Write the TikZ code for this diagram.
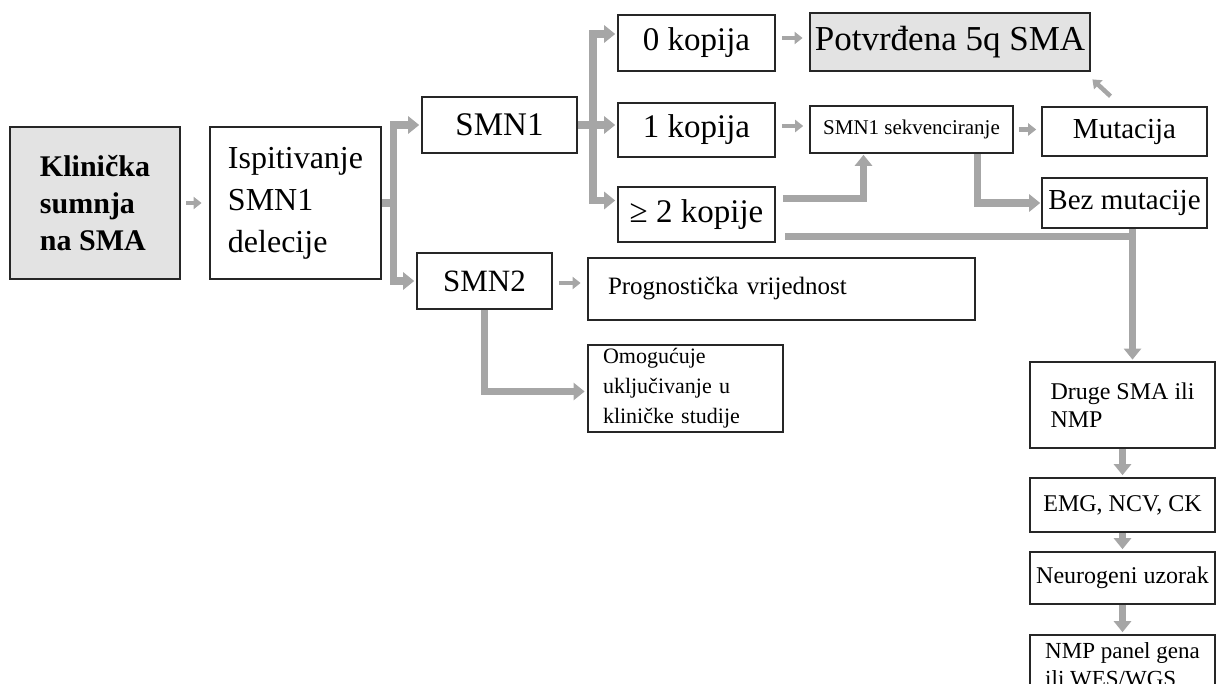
\documentclass[tikz,border=0pt]{standalone}
\usepackage{fontspec}
\setmainfont{Liberation Serif}
\usetikzlibrary{arrows.meta}
\definecolor{arrowgray}{HTML}{A6A6A6}
\definecolor{boxgray}{HTML}{E3E3E3}
\newcommand{\fsz}[2]{\fontsize{#1}{#2}\selectfont}

\begin{document}
\begin{tikzpicture}[x=1pt,y=-1pt,
    box/.style={draw=black!85, line width=1.6pt, inner sep=0pt, align=center},
    boxb/.style={box, line width=2.8pt},
    graybox/.style={boxb, fill=boxgray},
    flow/.style={draw=arrowgray, line width=4.5pt, -{Triangle[length=8pt,width=12pt]}},
    branchline/.style={draw=arrowgray, line width=7.5pt},
    branch/.style={branchline, -{Triangle[length=11pt,width=17pt]}}]
    \useasboundingbox (0,0) rectangle (1217,684);
    \clip (0,0) rectangle (1217,684);% bottom box is cut off
    % left column
    \node[graybox, minimum width=170pt, minimum height=152pt, align=left,
        font=\bfseries\fsz{30}{37}] (klin) at (95,203) {Klinička\\sumnja\\na SMA};
    \node[boxb, minimum width=171pt, minimum height=152pt, align=left,
        font=\fsz{32}{42}] (ispit) at (295.5,203) {Ispitivanje\\SMN1\\delecije};
    \node[box, minimum width=155pt, minimum height=56pt, font=\fsz{33}{40}] (smn1) at (499.5,125) {SMN1};
    \node[box, minimum width=135pt, minimum height=56pt, font=\fsz{31}{38}] (smn2) at (484.5,281) {SMN2};
    % copies
    \node[box, minimum width=157pt, minimum height=56pt, font=\fsz{33}{40}] (k0) at (696.5,43) {0 kopija};
    \node[box, minimum width=157pt, minimum height=54pt, font=\fsz{33}{40}] (k1) at (696.5,130) {1 kopija};
    \node[box, minimum width=157pt, minimum height=55pt, font=\fsz{33}{40}] (k2) at (696.5,214.5) {≥ 2 kopije};
    \node[boxb, minimum width=387pt, minimum height=62pt, text width=347pt, inner xsep=20pt,
        align=left, font=\fsz{25}{30}] (progn) at (781.5,289) {Prognostička vrijednost};
    \node[boxb, minimum width=195pt, minimum height=87pt, text width=165pt, inner xsep=15pt,
        align=left, font=\fsz{22}{30}] (omog) at (685.5,388.5) {Omogućuje\\uključivanje u\\kliničke studije};
    % right part
    \node[graybox, minimum width=280pt, minimum height=58pt, font=\fsz{35}{40}] (potv) at (950,42) {Potvrđena 5q SMA};
    \node[box, minimum width=203pt, minimum height=47pt, font=\fsz{21}{26}] (sekv) at (911.5,129.5) {SMN1 sekvenciranje};
    \node[box, minimum width=165pt, minimum height=49pt, font=\fsz{29}{34}] (mut) at (1124.5,131.5) {Mutacija};
    \node[box, minimum width=165pt, minimum height=50pt, font=\fsz{29}{34}] (bez) at (1124.5,203) {Bez mutacije};
    \node[boxb, minimum width=185pt, minimum height=86pt, align=left,
        font=\fsz{24}{28}] (druge) at (1122.5,405) {Druge SMA ili\\NMP};
    \node[box, minimum width=185pt, minimum height=54pt, font=\fsz{24}{28}] (emg) at (1122.5,505) {EMG, NCV, CK};
    \node[box, minimum width=185pt, minimum height=52pt, font=\fsz{24}{28}] (neuro) at (1122.5,578) {Neurogeni uzorak};
    \node[box, minimum width=185pt, minimum height=60pt, align=left,
        font=\fsz{23}{28}] (nmp) at (1122.5,665) {NMP panel gena\\ili WES/WGS};
    % connectors
    \draw[flow, shorten <=5pt, shorten >=7pt] (klin) -- (ispit);
    \coordinate (ispj) at ([xshift=11pt]ispit.east);
    \draw[branchline] (ispit.east) -- (ispj);
    \draw[branch, shorten >=2pt] (ispj) |- (smn1.west);
    \draw[branch, shorten >=2pt] (ispj) |- (smn2.west);
    \coordinate (smn1j) at ([xshift=15pt]smn1.east);
    \draw[branch, shorten >=2pt] (smn1.east) -- (smn1.east -| k1.west);
    \draw[branch, shorten >=2pt] (smn1j) |- ([yshift=9pt]k0.west);
    \draw[branch, shorten >=2pt] (smn1j) |- ([yshift=14pt]k2.west);
    \draw[flow, shorten <=6pt, shorten >=6pt] ([yshift=5pt]k0.east) -- ([yshift=5pt]k0.east -| potv.west);
    \draw[flow, shorten <=6pt, shorten >=6pt] ([yshift=4pt]k1.east) -- ([yshift=4pt]k1.east -| sekv.west);
    \draw[branch, shorten >=1pt] ([xshift=7pt,yshift=16pt]k2.east) -| ([xshift=-48pt]sekv.south);
    \coordinate (drugein) at ([xshift=10pt]druge.north);
    \draw[branchline] (bez.south -| drugein) -- ++(0,12);
    \draw[branch, shorten >=1pt] ([xshift=9pt,yshift=-22pt]k2.east) -| (drugein);
    \draw[flow, shorten <=5pt, shorten >=5pt] (sekv.east) -- (sekv.east -| mut.west);
    \draw[branch, shorten >=1pt] ([xshift=66pt]sekv.south) |- (bez.west);
    \draw[flow] ([xshift=-14pt,yshift=10pt]mut.north) -- ([xshift=1pt,yshift=-7pt]potv.south east);
    \draw[flow, shorten <=6pt, shorten >=6pt] ([yshift=-2pt]smn2.east) -- ([yshift=-2pt]smn2.east -| progn.west);
    \draw[branch, shorten >=2pt] (smn2.south) |- ([yshift=-3pt]omog.west);
    \draw[branch, shorten >=2pt] (druge) -- (emg);
    \draw[branch, shorten >=2pt] (emg) -- (neuro);
    \draw[branch, shorten >=2pt] (neuro) -- (nmp);
\end{tikzpicture}
\end{document}
